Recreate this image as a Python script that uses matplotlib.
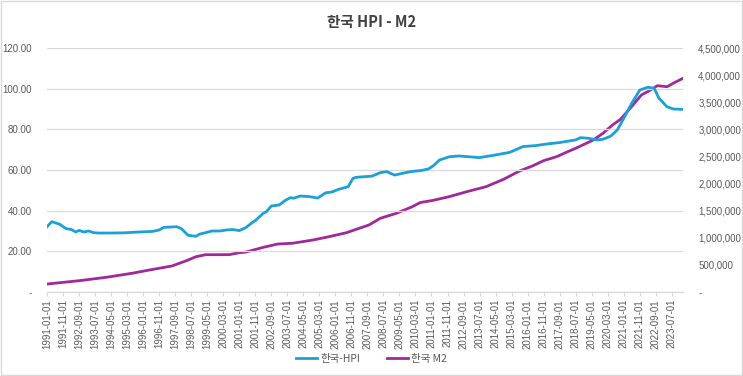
import numpy as np
import pandas as pd
import matplotlib
matplotlib.use("Agg")
import matplotlib.pyplot as plt
from matplotlib.patches import Rectangle
from matplotlib.ticker import FuncFormatter, MultipleLocator

plt.rcParams['font.family'] = ['Liberation Sans', 'Noto Sans CJK KR', 'DejaVu Sans']

# monthly category axis, 1991-01 .. 2024-02
start, end = "1991-01", "2024-02"

# Korea house price index
hpi_dates = ["1991-01", "1991-04", "1991-09", "1992-01", "1992-04", "1992-07", "1992-09",
             "1992-12", "1993-03", "1993-06", "1993-09", "1994-05", "1995-01", "1995-10",
             "1996-07", "1996-11", "1997-02", "1997-10", "1998-01", "1998-05", "1998-10",
             "1998-12", "1999-04", "1999-08", "2000-01", "2000-05", "2000-09", "2001-01",
             "2001-05", "2001-09", "2001-11", "2002-04", "2002-06", "2002-09", "2003-02",
             "2003-06", "2003-09", "2003-11", "2004-03", "2004-09", "2005-02", "2005-07",
             "2005-11", "2006-03", "2006-09", "2006-12", "2007-02", "2007-12", "2008-05",
             "2008-09", "2009-02", "2009-07", "2009-12", "2010-07", "2010-11", "2011-02",
             "2011-06", "2011-12", "2012-06", "2013-07", "2014-05", "2015-02", "2015-10",
             "2016-06", "2017-01", "2017-09", "2018-07", "2018-10", "2019-03", "2019-08",
             "2019-12", "2020-05", "2020-09", "2021-01", "2021-06", "2021-11", "2022-04",
             "2022-08", "2022-11", "2023-04", "2023-08", "2024-02"]
hpi_values = [32.1, 34.6, 33.3, 31.1, 30.8, 29.5, 30.3,
              29.5, 30.0, 29.2, 29.0, 29.0, 29.1, 29.5,
              29.8, 30.5, 31.8, 32.1, 31.1, 27.9, 27.4,
              28.4, 29.2, 30.0, 30.0, 30.5, 30.7, 30.2,
              31.6, 34.1, 35.1, 38.7, 39.5, 42.3, 42.8,
              45.2, 46.4, 46.1, 47.2, 46.9, 46.2, 48.8,
              49.2, 50.5, 51.8, 55.9, 56.4, 57.0, 58.7,
              59.2, 57.5, 58.4, 59.2, 59.8, 60.5, 62.0,
              64.9, 66.5, 66.9, 66.1, 67.4, 68.7, 71.5,
              72.0, 72.8, 73.5, 74.8, 75.9, 75.6, 74.8,
              75.1, 76.7, 79.7, 85.4, 92.8, 99.3, 100.7,
              100.2, 95.3, 91.1, 90.0, 89.8]

# Korea M2
m2_dates = ["1991-01", "1992-09", "1994-02", "1995-06", "1996-05", "1997-07", "1998-04",
            "1998-10", "1999-04", "2000-01", "2000-07", "2001-01", "2001-05", "2002-04",
            "2003-01", "2003-10", "2004-11", "2005-09", "2006-08", "2007-02", "2007-10",
            "2008-05", "2009-03", "2010-01", "2010-06", "2011-02", "2011-12", "2012-11",
            "2013-11", "2014-10", "2015-08", "2016-04", "2016-11", "2017-07", "2018-03",
            "2018-07", "2019-06", "2019-12", "2020-06", "2020-11", "2021-05", "2021-12",
            "2022-05", "2022-10", "2023-04", "2023-09", "2024-02"]
m2_values = [147000, 208000, 271000, 345000, 406000, 480000, 577000,
             651000, 688000, 688000, 690000, 725000, 735000, 824000,
             885000, 898000, 959000, 1020000, 1094000, 1156000, 1236000,
             1359000, 1451000, 1573000, 1650000, 1690000, 1758000, 1850000,
             1942000, 2078000, 2232000, 2324000, 2422000, 2495000, 2600000,
             2650000, 2803000, 2926000, 3080000, 3185000, 3388000, 3633000,
             3713000, 3805000, 3786000, 3867000, 3941000]


def month_index(d):
    y, m = d.split("-")
    return (int(y) - 1991) * 12 + int(m) - 1


months = pd.date_range(start, end, freq="MS")
n = len(months)

hpi_x = [month_index(d) for d in hpi_dates]
m2_x = [month_index(d) for d in m2_dates]

blue = "#1BA0D8"
purple = "#A02898"
txt = "#595959"
grid = "#D9D9D9"

fig = plt.figure(figsize=(7.43, 3.76), dpi=100)
ax = fig.add_axes([47 / 743, 1 - 292 / 376, (683 - 47) / 743, (292 - 48) / 376])
ax2 = ax.twinx()

ax.plot(hpi_x, hpi_values, color=blue, lw=2.0, label="한국-HPI", zorder=3)
ax2.plot(m2_x, m2_values, color=purple, lw=2.0, label="한국 M2", zorder=3)

ax.set_xlim(0, n - 1)
ax.set_ylim(0, 120)
ax2.set_ylim(0, 4500000)
ax.yaxis.set_major_locator(MultipleLocator(20))
ax2.yaxis.set_major_locator(MultipleLocator(500000))
ax.yaxis.set_major_formatter(FuncFormatter(lambda v, p: "-" if v == 0 else f"{v:.2f}"))
ax2.yaxis.set_major_formatter(FuncFormatter(lambda v, p: "-" if v == 0 else f"{v:,.0f}"))

ticks = list(range(0, n, 10))
ax.set_xticks(ticks)
ax.set_xticklabels([months[i].strftime("%Y-%m-01") for i in ticks], rotation=90,
                   fontsize=7, color=txt)
ax.tick_params(axis="x", length=3, color=grid, pad=2)
ax.tick_params(axis="y", length=0, labelsize=7, labelcolor=txt, pad=11)
ax2.tick_params(axis="y", length=0, labelsize=7, labelcolor=txt, pad=11)

ax.grid(axis="y", color=grid, lw=0.9)
for a in (ax, ax2):
    for s in ("top", "left", "right"):
        a.spines[s].set_visible(False)
    a.spines["bottom"].set_color(grid)
ax.set_zorder(ax2.get_zorder() + 1)
ax.patch.set_visible(False)

fig.text(0.5, 1 - 22 / 376, "한국 HPI - M2", ha="center", va="center",
         fontsize=10.5, fontweight="bold", color="#404040",
         family=['Noto Sans CJK KR', 'DejaVu Sans'])

h1, l1 = ax.get_legend_handles_labels()
h2, l2 = ax2.get_legend_handles_labels()
fig.legend(h1 + h2, l1 + l2, loc="center", bbox_to_anchor=(0.5, 1 - 359 / 376), ncol=2,
           frameon=False, labelcolor=txt, handlelength=2.0,
           columnspacing=2.6, handletextpad=0.3,
           prop={'family': ['Noto Sans CJK KR', 'DejaVu Sans'], 'size': 7.5})

fig.patches.append(Rectangle((0.001, 0.002), 0.997, 0.995, transform=fig.transFigure,
                             fill=False, edgecolor=grid, lw=1))

fig.savefig("out.png", dpi=100)
